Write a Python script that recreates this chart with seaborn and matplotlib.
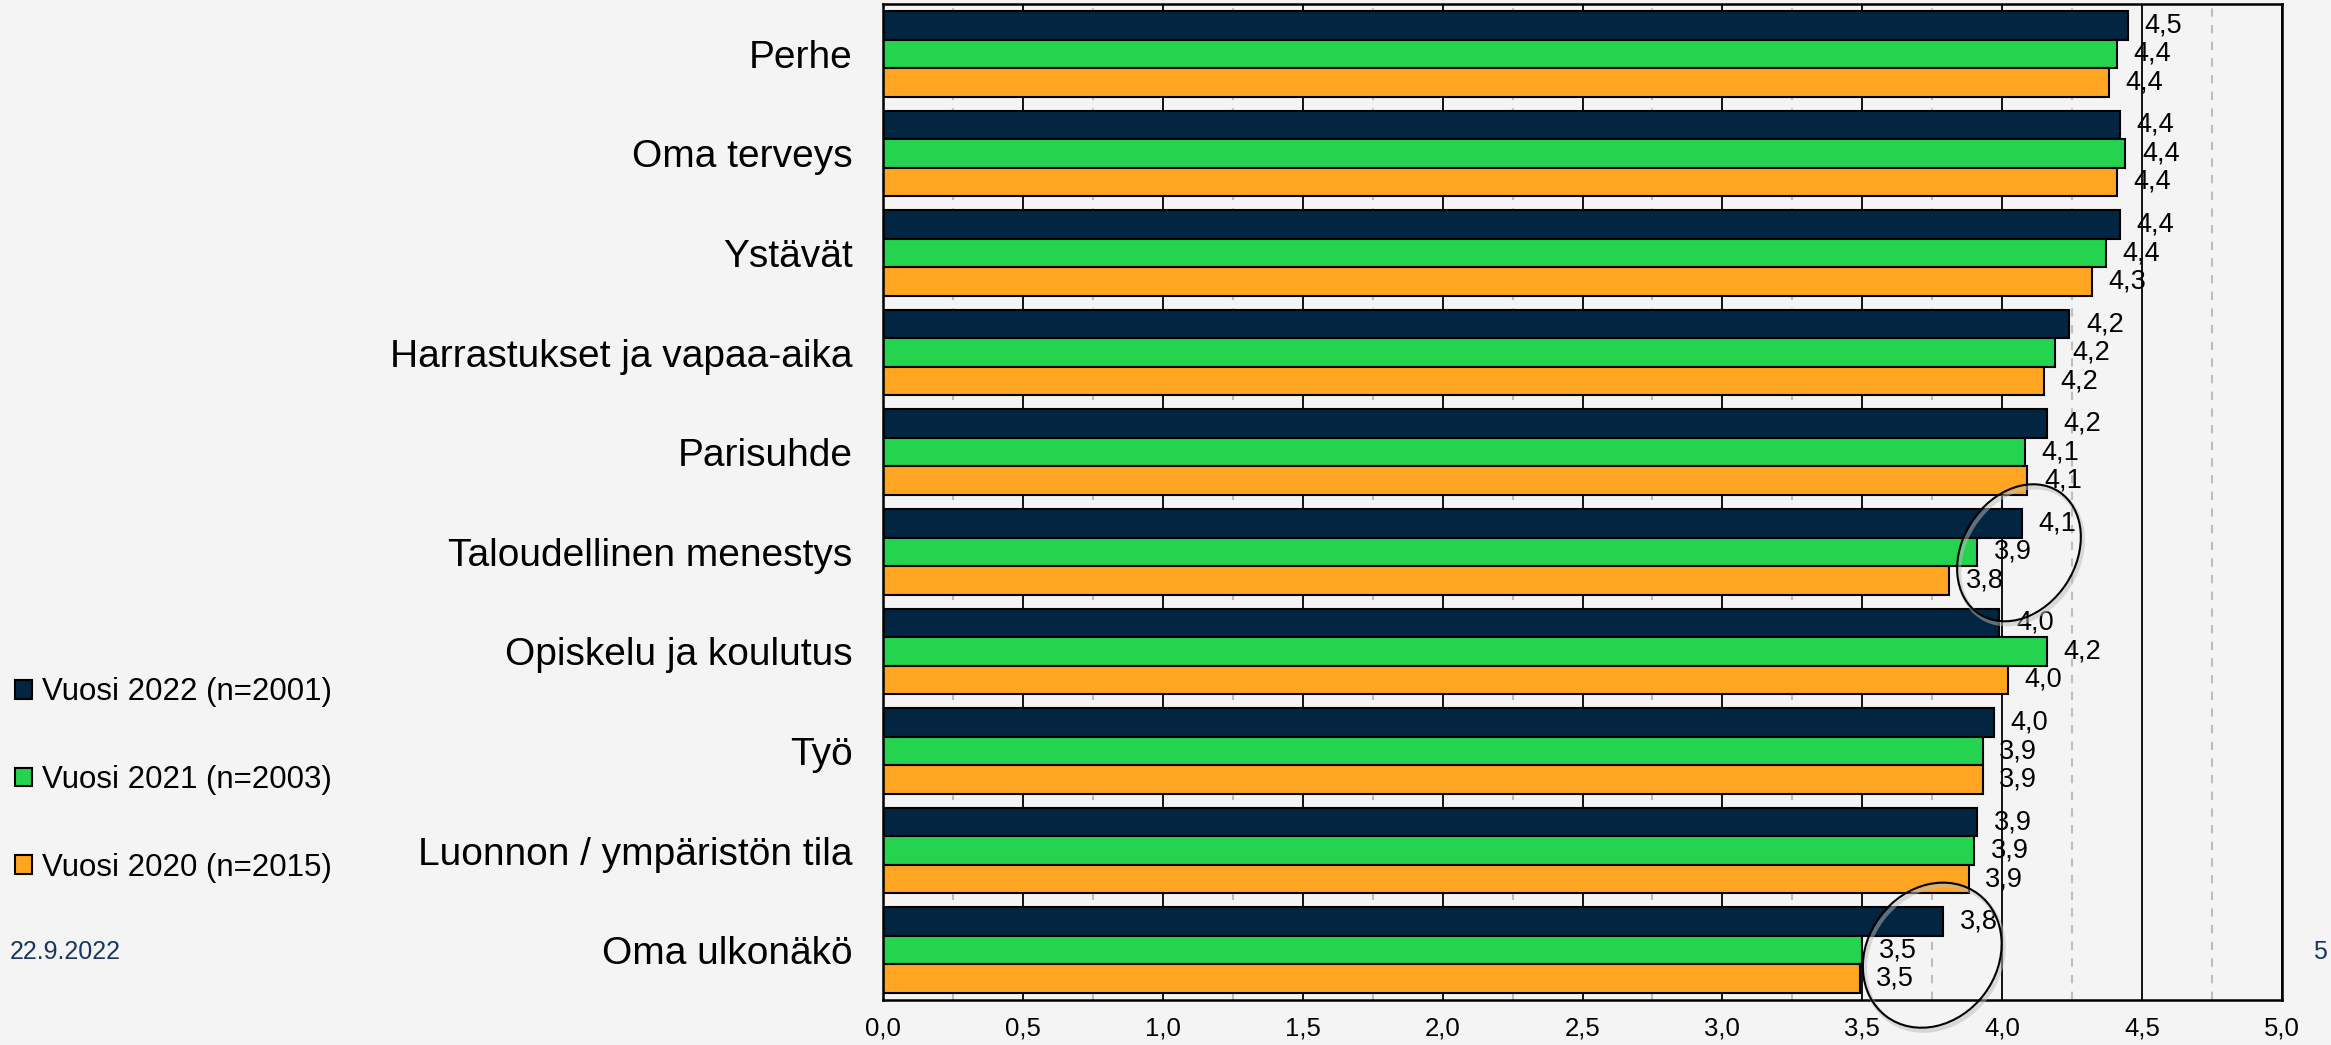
import matplotlib
matplotlib.use("Agg")
import matplotlib.pyplot as plt
import numpy as np
import pandas as pd
import seaborn as sns
from matplotlib.patches import Ellipse, Patch
from matplotlib.ticker import FuncFormatter, MultipleLocator
from matplotlib.transforms import IdentityTransform

categories = ["Perhe", "Oma terveys", "Ystävät", "Harrastukset ja vapaa-aika", "Parisuhde",
              "Taloudellinen menestys", "Opiskelu ja koulutus", "Työ",
              "Luonnon / ympäristön tila", "Oma ulkonäkö"]
series = ["Vuosi 2022 (n=2001)", "Vuosi 2021 (n=2003)", "Vuosi 2020 (n=2015)"]
v2022 = [4.45, 4.42, 4.42, 4.24, 4.16, 4.07, 3.99, 3.97, 3.91, 3.79]
v2021 = [4.41, 4.44, 4.37, 4.19, 4.08, 3.91, 4.16, 3.93, 3.90, 3.50]
v2020 = [4.38, 4.41, 4.32, 4.15, 4.09, 3.81, 4.02, 3.93, 3.88, 3.49]
colors = ["#022641", "#25D44E", "#FFA522"]

df = pd.DataFrame({
    "kategoria": categories * 3,
    "arvo": v2022 + v2021 + v2020,
    "vuosi": [series[0]] * 10 + [series[1]] * 10 + [series[2]] * 10,
})

bg = "#F4F4F4"
sns.set_style("white")
plt.rcParams["font.family"] = ["Liberation Sans", "DejaVu Sans"]
plt.rcParams["text.color"] = "black"
plt.rcParams["xtick.color"] = "black"
plt.rcParams["ytick.color"] = "black"

fig = plt.figure(figsize=(23.31, 10.45), dpi=100, facecolor=bg)
ax = fig.add_axes([883 / 2331, 1 - 1000 / 1045, (2282 - 883) / 2331, 996 / 1045])
ax.set_facecolor(bg)

sns.barplot(data=df, y="kategoria", x="arvo", hue="vuosi", orient="h",
            palette=colors, width=0.86, edgecolor="black", linewidth=1.5,
            saturation=1, legend=False, ax=ax)

for cont, vals in zip(ax.containers, [v2022, v2021, v2020]):
    ax.bar_label(cont, labels=[f"{v:.1f}".replace(".", ",") for v in vals],
                 padding=12, fontsize=19.5, color="black")

ax.set_xlim(0, 5)
ax.xaxis.set_major_locator(MultipleLocator(0.5))
ax.xaxis.set_minor_locator(MultipleLocator(0.25))
ax.xaxis.set_major_formatter(FuncFormatter(lambda v, p: f"{v:.1f}".replace(".", ",")))
ax.set_axisbelow(True)
ax.grid(which="major", axis="x", color="black", linewidth=1.3)
ax.grid(which="minor", axis="x", color="#BDBDBD", linewidth=1.5, linestyle=(0, (4, 4)))
ax.tick_params(axis="x", which="both", length=0, labelsize=18.5, pad=12, labelcolor="black")
ax.tick_params(axis="y", length=0, labelsize=28, pad=22, labelcolor="black")
ax.set_xlabel("")
ax.set_ylabel("")
for s in ax.spines.values():
    s.set_visible(True)
    s.set_color("black")
    s.set_linewidth(1.8)

# hand-drawn style circles
fig.canvas.draw()
for (cx, cy), w, h, ang in [((4.06, 5.01), 146, 113, 57), ((3.75, 9.05), 153, 130, 53)]:
    px, py = ax.transData.transform((cx, cy))
    sh = Ellipse((px + 2, py - 3), w, h, angle=ang, transform=IdentityTransform(),
                 fill=False, edgecolor="#BBBBBB", linewidth=3, alpha=0.5, clip_on=False)
    el = Ellipse((px, py), w, h, angle=ang, transform=IdentityTransform(),
                 fill=False, edgecolor="black", linewidth=1.5, clip_on=False)
    fig.add_artist(sh)
    fig.add_artist(el)

handles = [Patch(facecolor=c, edgecolor="black", linewidth=1.5) for c in colors]
fig.legend(handles, series, loc="center left", bbox_to_anchor=(15 / 2331, 1 - 780 / 1045),
           frameon=False, fontsize=22.5, handlelength=0.55, handleheight=0.55,
           handletextpad=0.3, labelspacing=1.85, borderpad=0, borderaxespad=0)

fig.text(10 / 2331, 1 - 952 / 1045, "22.9.2022", fontsize=18, color="#17375E",
         ha="left", va="center")
fig.text(2320 / 2331, 1 - 952 / 1045, "5", fontsize=18, color="#17375E",
         ha="center", va="center")

fig.savefig("out.png", dpi=100, facecolor=bg)
